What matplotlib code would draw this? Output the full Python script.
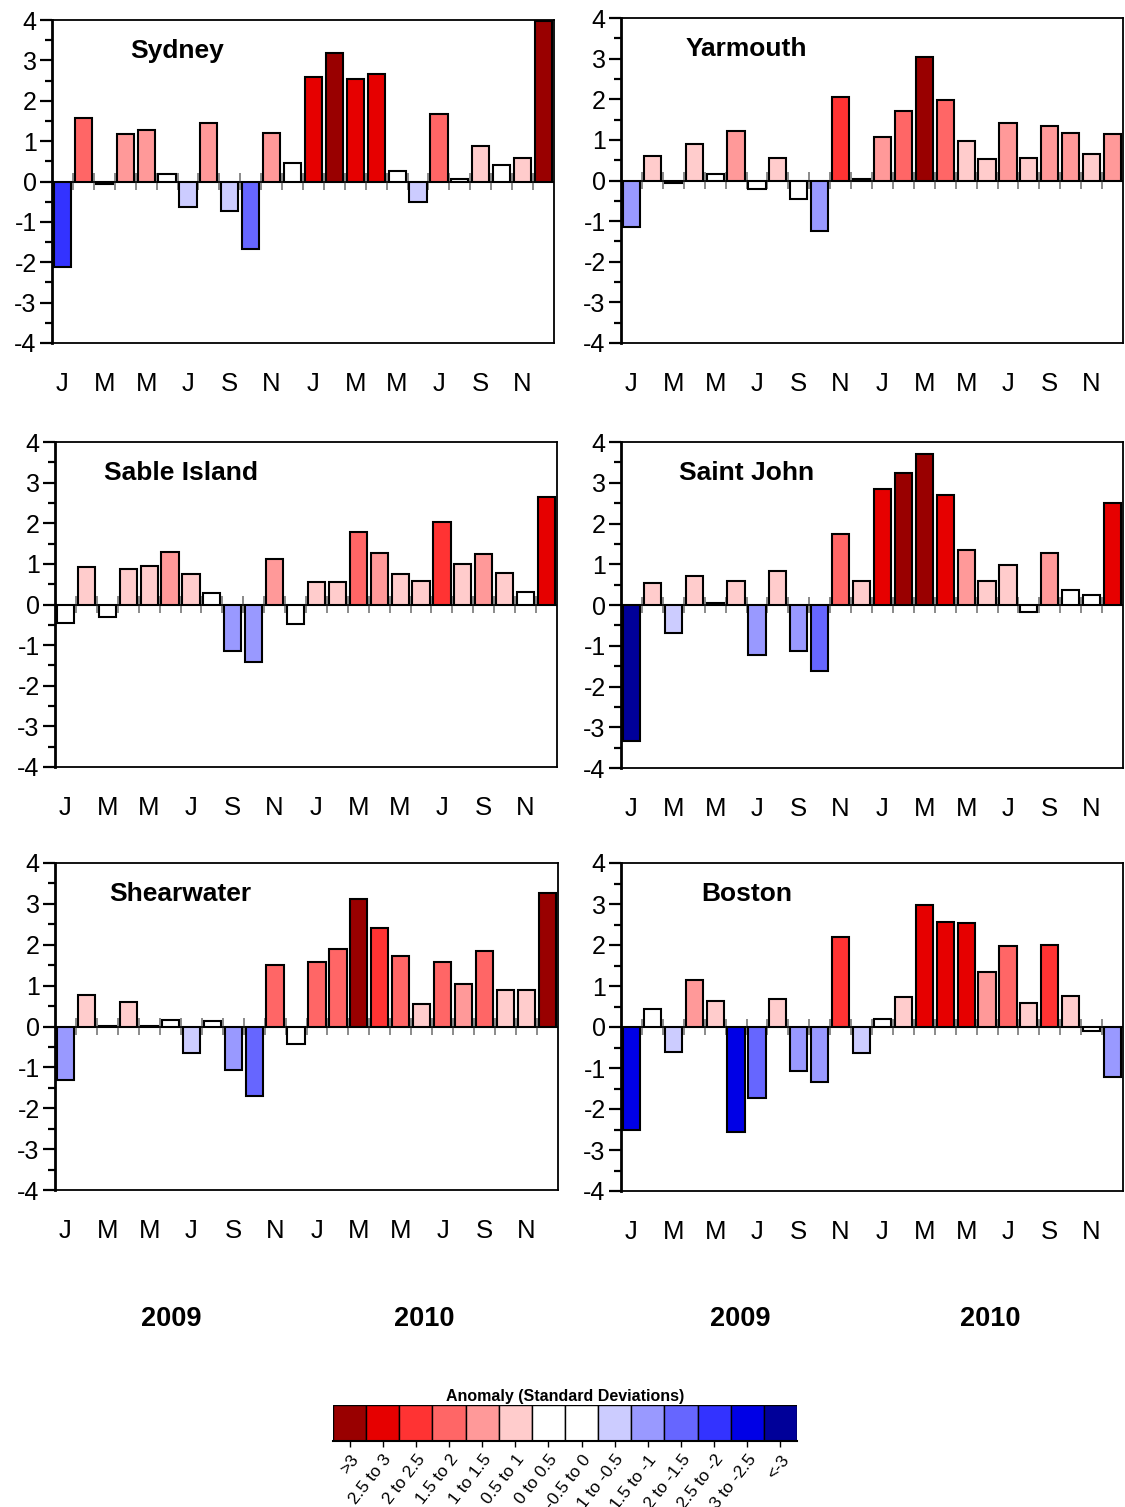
import matplotlib
matplotlib.use("Agg")
import matplotlib.pyplot as plt
import numpy as np

plt.rcParams['font.family'] = ['Liberation Sans', 'DejaVu Sans']
plt.rcParams['axes.unicode_minus'] = False

# monthly anomalies, Jan 2009 .. Dec 2010 (standard deviations)
sydney = [-2.12, 1.58, -0.06, 1.17, 1.28, 0.19, -0.63, 1.46, -0.72, -1.68, 1.19, 0.47,
          2.59, 3.19, 2.54, 2.67, 0.27, -0.52, 1.67, 0.07, 0.89, 0.42, 0.59, 3.98]
yarmouth = [-1.15, 0.60, -0.07, 0.89, 0.16, 1.21, -0.20, 0.55, -0.46, -1.24, 2.05, 0.04,
            1.06, 1.70, 3.04, 1.99, 0.96, 0.52, 1.42, 0.55, 1.35, 1.16, 0.65, 1.14]
sable = [-0.45, 0.93, -0.31, 0.88, 0.95, 1.29, 0.74, 0.29, -1.15, -1.42, 1.11, -0.47,
         0.55, 0.55, 1.79, 1.28, 0.75, 0.59, 2.03, 0.99, 1.25, 0.78, 0.31, 2.65]
saint_john = [-3.34, 0.54, -0.68, 0.71, 0.04, 0.58, -1.22, 0.84, -1.12, -1.63, 1.74, 0.59,
              2.85, 3.23, 3.71, 2.71, 1.34, 0.58, 0.98, -0.17, 1.28, 0.38, 0.24, 2.51]
shearwater = [-1.31, 0.78, 0.02, 0.60, 0.02, 0.16, -0.64, 0.13, -1.06, -1.70, 1.51, -0.43,
              1.58, 1.89, 3.12, 2.40, 1.72, 0.56, 1.57, 1.04, 1.84, 0.90, 0.90, 3.27]
boston = [-2.52, 0.43, -0.62, 1.15, 0.63, -2.57, -1.73, 0.69, -1.08, -1.35, 2.19, -0.64,
          0.20, 0.74, 2.98, 2.56, 2.53, 1.33, 1.97, 0.58, 2.01, 0.76, -0.10, -1.23]

stations = ["Sydney", "Yarmouth", "Sable Island", "Saint John", "Shearwater", "Boston"]
series = [sydney, yarmouth, sable, saint_john, shearwater, boston]

month_labels = ["J", "M", "M", "J", "S", "N"] * 2
years = ["2009", "2010"]

# colour classes, low to high
edges = [-3, -2.5, -2, -1.5, -1, -0.5, 0, 0.5, 1, 1.5, 2, 2.5, 3]
class_colors = ['#000099', '#0000e6', '#3333ff', '#6666ff', '#9999ff', '#ccccff', '#ffffff',
                '#ffffff', '#ffcccc', '#ff9999', '#ff6666', '#ff3333', '#e60000', '#990000']
class_labels = ['<-3', '-3 to -2.5', '-2.5 to -2', '-2 to -1.5', '-1.5 to -1', '-1 to -0.5',
                '-0.5 to 0', '0 to 0.5', '0.5 to 1', '1 to 1.5', '1.5 to 2', '2 to 2.5',
                '2.5 to 3', '>3']

W, H = 1125, 1507
fig = plt.figure(figsize=(W / 100, H / 100), dpi=100)

# panel boxes in pixels: left, top, right, bottom
boxes = [(52, 20, 554, 343), (621, 18, 1123, 343),
         (55, 442, 557, 767), (621, 442, 1123, 768),
         (55, 863, 558, 1190), (621, 863, 1123, 1191)]

for name, vals, (l, t, r, b) in zip(stations, series, boxes):
    ax = fig.add_axes([l / W, 1 - b / H, (r - l) / W, (b - t) / H])
    vals = np.array(vals)
    x = np.arange(len(vals))
    cols = [class_colors[k] for k in np.digitize(vals, edges)]
    ax.bar(x, vals, width=0.82, color=cols, edgecolor='black', linewidth=1.5, zorder=3)
    ax.axhline(0, color='black', linewidth=1.2, zorder=2)
    ax.vlines(np.arange(0.5, len(vals) - 1), -0.2, 0.2, color='#777777', linewidth=1.2, zorder=1)
    ax.set_xlim(-0.5, len(vals) - 0.5)
    ax.set_ylim(-4, 4)
    ax.set_yticks(np.arange(-4, 5, 1))
    ax.set_yticks(np.arange(-3.5, 4, 1), minor=True)
    ax.tick_params(axis='y', which='major', direction='out', length=9, width=1.6,
                   labelsize=18, pad=2)
    ax.tick_params(axis='y', which='minor', direction='out', length=5, width=1.6)
    ax.set_xticks(x[::2])
    ax.set_xticklabels(month_labels, fontsize=18.5)
    ax.tick_params(axis='x', length=0, pad=21)
    for s in ax.spines.values():
        s.set_linewidth(1.3)
    ax.spines['left'].set_linewidth(2)
    ax.text(0.25, 0.905, name, transform=ax.transAxes, ha='center', va='center',
            fontsize=19, fontweight='bold')

# year labels
for xp, yr in zip([171, 424, 740, 990], years * 2):
    fig.text(xp / W, 1 - 1319 / H, yr, ha='center', va='center', fontsize=19.5, fontweight='bold')

# legend colour strip, high classes on the left
lax = fig.add_axes([333 / W, 1 - 1441 / H, (797 - 333) / W, 36 / H])
leg_colors = class_colors[::-1]
leg_labels = class_labels[::-1]
pos = np.arange(len(leg_colors))
lax.bar(pos, np.ones(len(pos)), width=1.0, color=leg_colors, edgecolor='black', linewidth=1)
lax.set_xlim(-0.5, len(pos) - 0.5)
lax.set_ylim(0, 1)
lax.set_yticks([])
lax.set_xticks(pos)
lax.set_xticklabels(leg_labels, rotation=52, ha='right', rotation_mode='anchor', fontsize=12.5)
lax.tick_params(axis='x', length=4, width=1, pad=4)
for sp in ['left', 'right', 'top']:
    lax.spines[sp].set_visible(False)
lax.spines['bottom'].set_linewidth(1.5)
lax.set_title("Anomaly (Standard Deviations)", fontsize=11.5, fontweight='bold', pad=3)

fig.savefig("out.png", dpi=100)
